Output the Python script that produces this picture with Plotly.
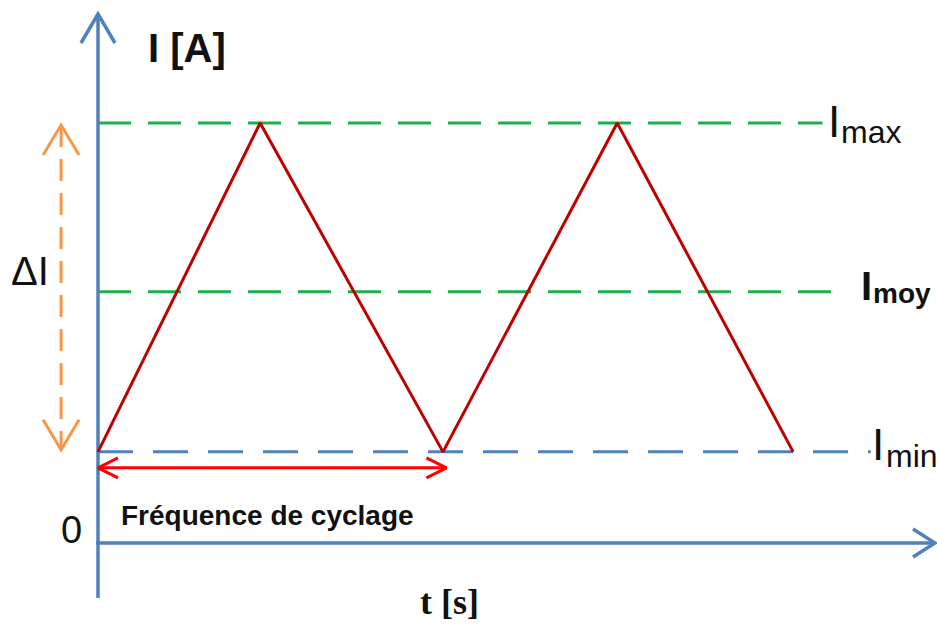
import plotly.graph_objects as go

# Données (t en périodes, I en A)
t_wave = [0.0, 0.47, 1.0, 1.505, 2.015]
i_wave = [2.17, 10.0, 2.17, 10.0, 2.17]

I_max = 10.0
I_moy = 5.98
I_min = 2.17

t_fin_max = 2.10
t_fin_moy = 2.145
t_fin_min = 2.24

T_cycle = 1.01      # flèche "Fréquence de cyclage"
I_cycle = 1.79
t_delta = -0.107    # flèche ΔI

# échelle : pixels <-> unités
W, H = 937, 625
X0, SX = 98, 345
Y0, SY = 543, 42


def px2t(x):
    return (x - X0) / SX


def py2i(y):
    return (Y0 - y) / SY


BLEU = "#4F81BD"
VERT = "#1DAF4B"
ROUGE = "#C00000"
ORANGE = "#F79646"

fig = go.Figure()


def ligne(x, y, color, width=3, dash="solid"):
    fig.add_trace(go.Scatter(
        x=x, y=y, mode="lines",
        line=dict(color=color, width=width, dash=dash),
        hoverinfo="skip",
    ))


def chevron(t, i, ddx, ddy, color, width=3):
    # pointe ouverte : ddx/ddy en pixels depuis la pointe
    ligne([t + ddx[0] / SX, t, t + ddx[1] / SX],
          [i + ddy[0] / SY, i, i + ddy[1] / SY], color, width)


# niveaux
ligne([0, t_fin_max], [I_max, I_max], VERT, 3, "33px,17px")
ligne([0, t_fin_moy], [I_moy, I_moy], VERT, 3, "33px,17px")
ligne([0, t_fin_min], [I_min, I_min], BLEU, 3, "35px,20px")

# axes
y_bas, y_haut = py2i(598), py2i(14)
ligne([0, 0], [y_bas, y_haut], BLEU, 3.5)
chevron(0, y_haut, (-17, 17), (-29, -29), BLEU, 3.5)
t_droite = px2t(935)
ligne([px2t(96), t_droite], [0, 0], BLEU, 3.5)
chevron(t_droite, 0, (-22, -22), (14, -14), BLEU, 3.5)

# signal triangulaire
ligne(t_wave, i_wave, ROUGE, 3)

# flèche ΔI
ligne([t_delta, t_delta], [I_max - 0.05, I_min + 0.05], ORANGE, 3, "22px,12px")
chevron(t_delta, I_max - 0.05, (-18, 18), (-30, -30), ORANGE, 3)
chevron(t_delta, I_min + 0.05, (-18, 18), (30, 30), ORANGE, 3)

# flèche période
ligne([0, T_cycle], [I_cycle, I_cycle], "#FF0000", 3)
chevron(0, I_cycle, (20, 20), (10, -10), "#FF0000", 3)
chevron(T_cycle, I_cycle, (-20, -20), (10, -10), "#FF0000", 3)


def texte(txt, x, y, size, bold=False, family="Liberation Sans",
          xanchor="left"):
    fig.add_annotation(
        text=f"<b>{txt}</b>" if bold else txt,
        x=px2t(x), y=py2i(y), xref="x", yref="y",
        xanchor=xanchor, yanchor="middle", showarrow=False,
        font=dict(size=size, color="#111111", family=family),
    )


texte("I [A]", 146, 48, 40, bold=True)
texte("ΔI", 9, 271, 40)
texte("0", 71, 530, 38, xanchor="center")
texte("Fréquence de cyclage", 119, 515, 28, bold=True)
texte("t [s]", 418, 602, 36, bold=True, family="Liberation Serif")

texte("I", 826, 121, 44)
texte("max", 839, 132, 32)
texte("I", 859, 286, 40, bold=True)
texte("moy", 871, 293, 28, bold=True)
texte("I", 870, 444, 44)
texte("min", 884, 456, 32)

fig.update_layout(
    width=W, height=H,
    margin=dict(l=0, r=0, t=0, b=0),
    paper_bgcolor="white", plot_bgcolor="white",
    showlegend=False,
    xaxis=dict(visible=False, range=[px2t(0), px2t(W)], fixedrange=True),
    yaxis=dict(visible=False, range=[py2i(H), py2i(0)], fixedrange=True),
)

fig.write_html("out.html", config={"displayModeBar": False},
               post_script="document.body.style.margin = '0';")
